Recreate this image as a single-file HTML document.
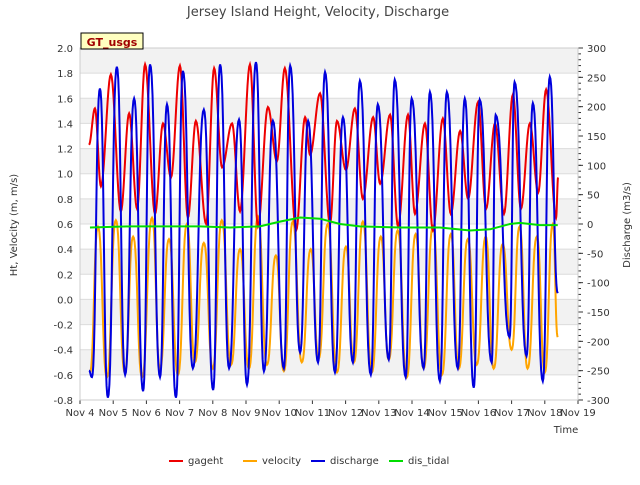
<!DOCTYPE html>
<html><head><meta charset="utf-8"><style>
body{margin:0;background:#fff;font-family:"Liberation Sans","DejaVu Sans",sans-serif}
svg text{font-family:"DejaVu Sans","Liberation Sans",sans-serif}
</style></head><body>
<svg id="chart" width="640" height="480" viewBox="0 0 640 480">
<text x="318" y="16" text-anchor="middle" font-size="13" fill="#444">Jersey Island Height, Velocity, Discharge</text>
<g id="plot"></g>
<g><rect x="81" y="33" width="62" height="16" fill="#ffffc0" stroke="#000" stroke-width="1"/><text x="112" y="46" text-anchor="middle" font-size="11" font-weight="bold" fill="#a00000">GT_usgs</text></g>
<text transform="translate(17,225) rotate(-90)" text-anchor="middle" font-size="10" fill="#333">Ht, Velocity (m, m/s)</text>
<text transform="translate(630,225) rotate(-90)" text-anchor="middle" font-size="10" fill="#333">Discharge (m3/s)</text>
<text x="566" y="433" text-anchor="middle" font-size="10" fill="#333">Time</text>
<g>
<g><line x1="169" y1="461" x2="183" y2="461" stroke="#e00" stroke-width="2"/><text x="188" y="464" font-size="10" fill="#333">gageht</text></g>
<g><line x1="243" y1="461" x2="257" y2="461" stroke="#ffa500" stroke-width="2"/><text x="262" y="464" font-size="10" fill="#333">velocity</text></g>
<g><line x1="311" y1="461" x2="325" y2="461" stroke="#0000dd" stroke-width="2"/><text x="330" y="464" font-size="10" fill="#333">discharge</text></g>
<g><line x1="389" y1="461" x2="403" y2="461" stroke="#00dd00" stroke-width="2"/><text x="408" y="464" font-size="10" fill="#333">dis_tidal</text></g>
</g>
</svg>
<script>
const xTickLabels=["Nov 4","Nov 5","Nov 6","Nov 7","Nov 8","Nov 9","Nov 10","Nov 11","Nov 12","Nov 13","Nov 14","Nov 15","Nov 16","Nov 17","Nov 18","Nov 19"];
const leftTicks=[2.0,1.8,1.6,1.4,1.2,1.0,0.8,0.6,0.4,0.2,0.0,-0.2,-0.4,-0.6,-0.8];
const rightTicks=[300,250,200,150,100,50,0,-50,-100,-150,-200,-250,-300];
const gagehtDays=[0.27,0.45,0.63,0.93,1.23,1.48,1.72,1.96,2.26,2.50,2.74,3.01,3.25,3.49,3.80,4.04,4.28,4.58,4.82,5.12,5.36,5.66,5.93,6.17,6.51,6.78,6.93,7.23,7.53,7.74,8.01,8.28,8.52,8.83,9.04,9.34,9.58,9.88,10.09,10.39,10.63,10.93,11.17,11.45,11.69,11.99,12.23,12.50,12.77,13.04,13.28,13.55,13.80,14.04,14.34,14.40];
const gagehtValues=[1.23,1.52,0.9,1.79,0.7,1.48,0.72,1.87,0.68,1.4,0.97,1.86,0.65,1.42,0.6,1.84,1.05,1.4,0.7,1.87,0.58,1.53,1.1,1.84,0.55,1.45,1.15,1.64,0.6,1.42,1.03,1.52,0.8,1.45,0.92,1.47,0.58,1.47,0.68,1.4,0.55,1.44,0.68,1.34,0.8,1.57,0.72,1.4,0.68,1.63,0.72,1.4,0.85,1.67,0.65,0.97];
const velPeakDays=[0.54,1.08,1.60,2.17,2.68,3.22,3.73,4.27,4.82,5.36,5.90,6.41,6.95,7.46,8.01,8.52,9.06,9.57,10.11,10.63,11.17,11.68,12.22,12.73,13.24,13.76,14.24];
const velPeakValues=[0.58,0.63,0.5,0.65,0.48,0.6,0.45,0.63,0.4,0.66,0.35,0.62,0.4,0.6,0.42,0.62,0.5,0.55,0.52,0.58,0.52,0.48,0.5,0.44,0.58,0.5,0.6];
const velTroughDays=[0.30,0.81,1.35,1.87,2.41,2.95,3.46,4.00,4.55,5.09,5.63,6.14,6.68,7.19,7.74,8.25,8.79,9.30,9.84,10.35,10.90,11.41,11.95,12.46,13.00,13.48,14.00,14.39];
const velTroughValues=[-0.58,-0.62,-0.58,-0.62,-0.55,-0.6,-0.5,-0.55,-0.52,-0.55,-0.52,-0.57,-0.5,-0.47,-0.58,-0.5,-0.58,-0.48,-0.62,-0.55,-0.6,-0.55,-0.52,-0.55,-0.4,-0.55,-0.58,-0.3];
const dischargeDays=[0.27,0.36,0.60,0.84,1.11,1.36,1.63,1.90,2.11,2.41,2.62,2.89,3.10,3.40,3.73,4.01,4.22,4.49,4.79,5.03,5.30,5.54,5.81,6.14,6.33,6.63,6.87,7.17,7.38,7.68,7.92,8.22,8.43,8.76,8.97,9.30,9.48,9.81,9.99,10.35,10.54,10.84,11.05,11.38,11.59,11.86,12.04,12.40,12.52,12.94,13.09,13.45,13.64,13.94,14.15,14.39];
const dischargeValues=[-250,-261,231,-296,268,-257,214,-285,272,-261,204,-296,261,-246,195,-283,272,-246,178,-274,276,-251,176,-246,270,-219,176,-236,259,-253,182,-236,244,-257,204,-231,246,-261,214,-246,225,-268,225,-246,214,-279,212,-236,186,-193,242,-225,206,-268,251,-118];
const tidalDays=[0.30,1.51,3.61,4.52,5.42,6.02,6.63,7.23,7.83,8.43,9.64,10.84,11.75,12.35,12.95,13.25,13.85,14.39];
const tidalValues=[-6,-4,-4,-6,-4,4,11,9,0,-4,-6,-6,-11,-9,0,2,-2,-2];

const svg=document.getElementById('chart'), plot=document.getElementById('plot');
const NS='http://www.w3.org/2000/svg';
const X0=80,X1=578,Y0=48,Y1=400;
const xs=d=>X0+d*(X1-X0)/15;
const yl=v=>Y1-(v+0.8)*(Y1-Y0)/2.8;
const yr=v=>Y1-(v+300)*(Y1-Y0)/600;
function mk(tag,attrs,parent){const e=document.createElementNS(NS,tag);for(const k in attrs)e.setAttribute(k,attrs[k]);(parent||plot).appendChild(e);return e;}
for(let i=0;i<leftTicks.length-1;i++){if(i%2===0){const r=mk('rect',{x:X0,y:yl(leftTicks[i]),width:X1-X0,height:yl(leftTicks[i+1])-yl(leftTicks[i]),fill:'#f2f2f2'});}}
leftTicks.forEach(v=>{const l=mk('line',{x1:X0,x2:X1,y1:yl(v),y2:yl(v),stroke:'#dcdcdc','stroke-width':1});
const t=mk('text',{x:X0-7,y:yl(v)+4,'text-anchor':'end','font-size':10,fill:'#333'});t.textContent=v.toFixed(1);});
rightTicks.forEach(v=>{const t=mk('text',{x:X1+9,y:yr(v)+4,'font-size':10,fill:'#333'});t.textContent=v;
mk('line',{x1:X1,x2:X1+5,y1:yr(v),y2:yr(v),stroke:'#333'});});
for(let v=-300;v<=300;v+=10){mk('line',{x1:X1,x2:X1+3,y1:yr(v),y2:yr(v),stroke:'#333'});}
xTickLabels.forEach((s,i)=>{mk('line',{x1:xs(i),x2:xs(i),y1:Y1,y2:Y1+4,stroke:'#333'});const t=mk('text',{x:xs(i),y:Y1+16,'text-anchor':'middle','font-size':10,fill:'#333'});t.textContent=s;});
mk('rect',{x:X0,y:Y0,width:X1-X0,height:Y1-Y0,fill:'none',stroke:'#ccc'});
function ease(f,mode){if(mode===0)return f;let c=(1-Math.cos(Math.PI*f))/2;if(mode===2){const c2=(1-Math.cos(Math.PI*c))/2;c=0.5*c+0.5*c2;}return c;}
function curve(days,vals,ys,mode){let d='';for(let i=0;i<days.length;i++){if(i===0){d+='M'+xs(days[0]).toFixed(2)+','+ys(vals[0]).toFixed(2);continue;}
const n=mode?12:1;for(let k=1;k<=n;k++){const f=k/n,c=ease(f,mode);const t=days[i-1]+(days[i]-days[i-1])*f;const v=vals[i-1]+(vals[i]-vals[i-1])*c;d+='L'+xs(t).toFixed(2)+','+ys(v).toFixed(2);}}return d;}
function merge(a,av,b,bv){const p=a.map((t,i)=>[t,av[i]]).concat(b.map((t,i)=>[t,bv[i]]));p.sort((m,n)=>m[0]-n[0]);return [p.map(q=>q[0]),p.map(q=>q[1])];}
const vel=merge(velPeakDays,velPeakValues,velTroughDays,velTroughValues);
const s1=mk('path',{d:curve(vel[0],vel[1],yl,2),fill:'none',stroke:'#ffa500','stroke-width':2});

const s2=mk('path',{d:curve(gagehtDays,gagehtValues,yl,1),fill:'none',stroke:'#ee0000','stroke-width':2});

const s3=mk('path',{d:curve(dischargeDays,dischargeValues,yr,2),fill:'none',stroke:'#0000dd','stroke-width':2});

const s4=mk('path',{d:curve(tidalDays,tidalValues,yr,0),fill:'none',stroke:'#00dd00','stroke-width':2});

</script>
</body></html>
